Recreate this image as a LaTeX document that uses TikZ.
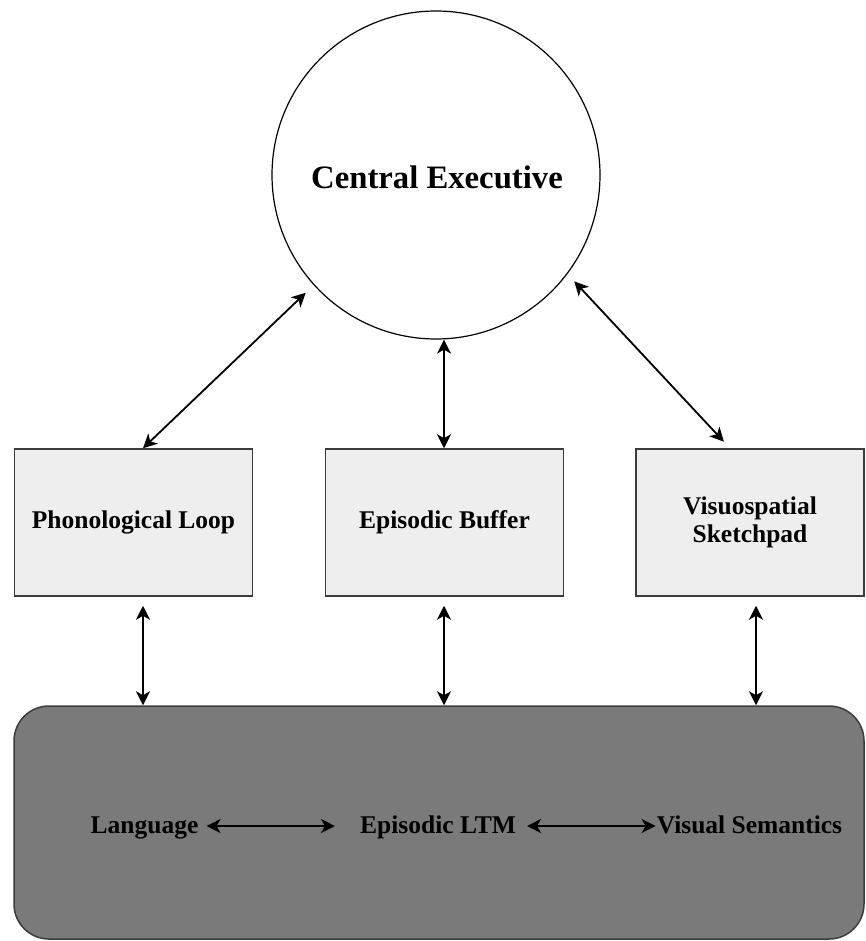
\documentclass[tikz,border=0pt]{standalone}
\usepackage{fontspec}
\setmainfont{Liberation Serif}[BoldFont={Liberation Serif Bold}]
\usetikzlibrary{arrows.meta}
\definecolor{boxfill}{RGB}{238,238,238}
\definecolor{boxline}{RGB}{60,60,60}
\definecolor{ltmfill}{RGB}{122,122,122}
\begin{document}
\begin{tikzpicture}[x=1pt,y=-1pt,
  conn/.style={line width=1.8pt,{Stealth[length=14pt,width=14pt,inset=4pt]}-{Stealth[length=14pt,width=14pt,inset=4pt]}},
  compbox/.style={draw=boxline,line width=1.5pt,fill=boxfill,minimum width=238pt,minimum height=147pt,inner sep=0pt,align=center,
    font=\fontsize{25.5}{28}\selectfont\bfseries},
  ltmtext/.style={inner sep=0pt,text height=19pt,text depth=5pt,font=\fontsize{25.5}{28}\selectfont\bfseries}
]
\useasboundingbox (0,0) rectangle (865,941);
\fill[white] (0,0) rectangle (865,941);

\node[circle,draw,line width=1.2pt,minimum size=328pt,inner sep=0pt] (ce) at (436,175) {};
\node[inner sep=0pt,font=\fontsize{32.7}{36}\selectfont\bfseries] (cetext) at (437,177) {Central Executive};

\node[compbox] (pl) at (133.5,522.5) {Phonological Loop};
\node[compbox] (eb) at (444.5,522.5) {Episodic Buffer};
\node[compbox,minimum width=228pt] (vs) at (750,522.5) {Visuospatial\\Sketchpad};

\node[draw=boxline,line width=1.5pt,fill=ltmfill,rounded corners=35pt,minimum width=850pt,minimum height=233pt,inner sep=0pt] (ltm) at (439,822.5) {};

\node[ltmtext] (lang) at (144.5,826) {Language};
\node[ltmtext] (eltm) at (438,826) {Episodic LTM};
\node[ltmtext] (vsem) at (749.5,826) {Visual Semantics};

\coordinate (d1) at (143,0);
\coordinate (d3) at (730,0);
\coordinate (v1) at (143,0);
\coordinate (v2) at (444,0);
\coordinate (v3) at (756,0);

\draw[conn,shorten >=11pt] (pl.north -| d1) -- (ce.-138);
\draw[conn] (eb.north -| v2) -- (ce.south -| v2);
\draw[conn,shorten <=9pt,shorten >=10pt] (vs.north -| d3) -- (ce.-37);

\draw[conn,shorten <=9pt] (pl.south -| v1) -- (ltm.north -| v1);
\draw[conn,shorten <=9pt] (eb.south -| v2) -- (ltm.north -| v2);
\draw[conn,shorten <=9pt] (vs.south -| v3) -- (ltm.north -| v3);

\draw[conn,shorten <=8pt,shorten >=25pt] (lang.east) -- (eltm.west);
\draw[conn,shorten <=11pt,shorten >=1pt] (eltm.east) -- (vsem.west);
\end{tikzpicture}
\end{document}
